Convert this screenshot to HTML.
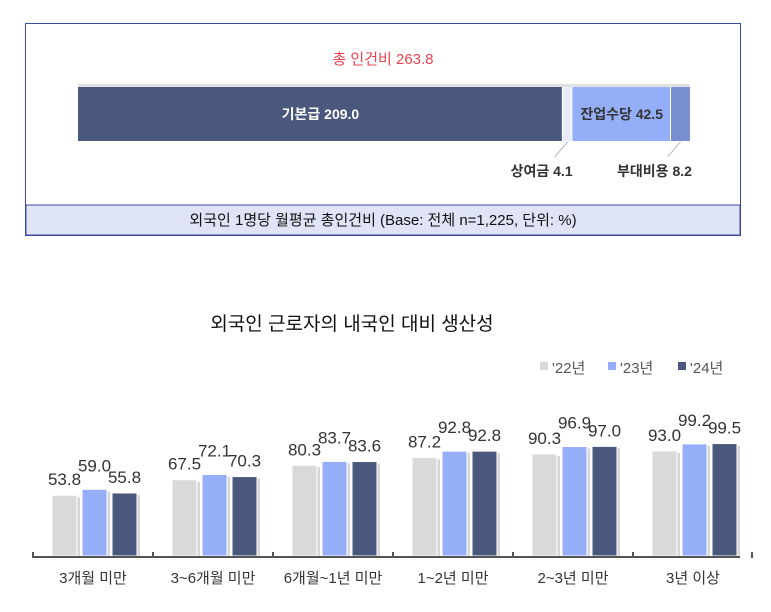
<!DOCTYPE html>
<html><head><meta charset="utf-8"><style>
body{margin:0;width:771px;height:607px;background:#fff;font-family:"Liberation Sans","Noto Sans CJK KR",sans-serif;overflow:hidden}
</style></head><body>
<svg width="771" height="607" xmlns="http://www.w3.org/2000/svg" font-family="Liberation Sans, Noto Sans CJK KR, sans-serif">
<g>
<rect x="25.5" y="23.5" width="715" height="212" fill="#fff" stroke="#3d4aa0"/>
<rect x="26" y="205" width="714" height="30" fill="#dfe4f6" stroke="#3d4aa0"/>
<text x="383" y="225" text-anchor="middle" font-size="15" fill="#111">외국인 1명당 월평균 총인건비 (Base: 전체 n=1,225, 단위: %)</text>
<text x="383" y="64" text-anchor="middle" font-size="15" fill="#e8434f">총 인건비 263.8</text>
<g id="stack"></g>
</g>
<text x="352" y="330" text-anchor="middle" font-size="19" fill="#111">외국인 근로자의 내국인 대비 생산성</text>
<g font-size="15" fill="#555">
<rect x="540" y="362" width="8" height="8" fill="#d9d9d9"/><text x="552" y="373">'22년</text>
<rect x="608" y="362" width="8" height="8" fill="#94aef8"/><text x="620" y="373">'23년</text>
<rect x="678" y="362" width="8" height="8" fill="#4a587e"/><text x="690" y="373">'24년</text>
</g>
<g id="bars"></g>
</svg>
<script>
const stackNames=["기본급","상여금","잔업수당","부대비용"];
const stackValues=[209.0,4.1,42.5,8.2];
const cats=["3개월 미만","3~6개월 미만","6개월~1년 미만","1~2년 미만","2~3년 미만","3년 이상"];
const s22=[53.8,67.5,80.3,87.2,90.3,93.0];
const s23=[59.0,72.1,83.7,92.8,96.9,99.2];
const s24=[55.8,70.3,83.6,92.8,97.0,99.5];
const NS="http://www.w3.org/2000/svg";
function mk(t,a,p){const e=document.createElementNS(NS,t);for(const k in a)e.setAttribute(k,a[k]);p.appendChild(e);return e;}
// stacked bar
const st=document.getElementById('stack');
const total=stackValues.reduce((a,b)=>a+b,0);
const sx=v=>78+v/total*612;
const scol=["#4a587e","#e8ecfa","#94aef8","#7a8fd0"];
let acc=0;
mk('rect',{x:78,y:84,width:612,height:3,fill:"#e0e0e0"},st);
for(let i=0;i<stackValues.length;i++){
 const x0=sx(acc),x1=sx(acc+stackValues[i]);
 const r=mk('rect',{x:x0,y:87,width:x1-x0-(i<3?1:0),height:54,fill:scol[i]},st);
 
 
 const lab=stackNames[i]+" "+stackValues[i].toFixed(1);
 const c=(x0+x1)/2;
 if(i===0||i===2){
  const t=mk('text',{x:c,y:119,"text-anchor":"middle","font-size":14,"font-weight":"bold",fill:i===0?"#fff":"#333"},st);t.textContent=lab;
  
  
 } else {
  mk('line',{x1:c,y1:142,x2:c-13,y2:157,stroke:"#bbb"},st);
  const t=mk('text',{x:c-26,y:176,"text-anchor":"middle","font-size":14,"font-weight":"bold",fill:"#333"},st);t.textContent=lab;
  
  
 }
 acc+=stackValues[i];
}
// grouped bars
const g=document.getElementById('bars');
const y0=556,k=1.13;
const yv=v=>y0-v*k;
const gx=i=>33+i*120;
const series=[s22,s23,s24],cols=["#d9d9d9","#94aef8","#4a587e"];
for(let i=0;i<cats.length;i++){
 for(let s=0;s<3;s++){
  const v=series[s][i],x=gx(i)+19+s*30,y=yv(v);
  mk('rect',{x:x+3,y:y+2,width:25,height:y0-y-2,fill:"#bbb",opacity:0.6},g);
  const r=mk('rect',{x:x,y:y,width:25,height:y0-y,fill:cols[s],stroke:"#fff","stroke-width":1},g);
  
  
  const dy=(s===1)?-18:-10;
  const t=mk('text',{x:x+12.5,y:y+dy,"text-anchor":"middle","font-size":17,fill:"#333"},g);t.textContent=v.toFixed(1);
  
  
 }
 const t=mk('text',{x:gx(i)+60,y:583,"text-anchor":"middle","font-size":15,fill:"#333"},g);t.textContent=cats[i];
 
 
}
const ax=mk('line',{x1:33,y1:y0+1,x2:740,y2:y0+1,stroke:"#555","stroke-width":2},g);


for(let i=0;i<=cats.length;i++){const xx=gx(i)+(i===cats.length?-1:0);mk('line',{x1:xx,y1:y0-4,x2:xx,y2:y0+2,stroke:"#555","stroke-width":2},g);}
</script>
</body></html>
